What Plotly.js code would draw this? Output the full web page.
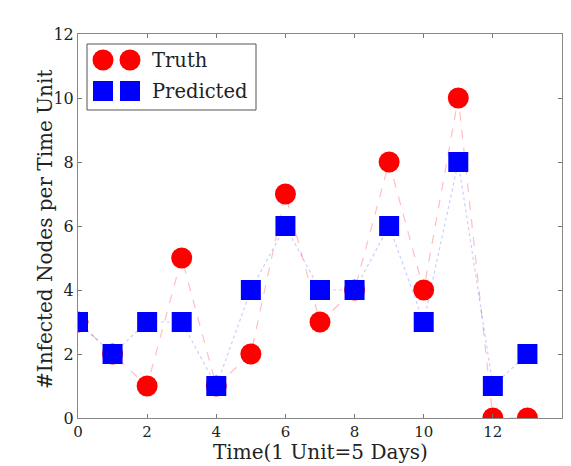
<!DOCTYPE html>
<html>
<head>
<meta charset="utf-8">
<script src="https://cdn.plot.ly/plotly-3.0.1.min.js"></script>
<style>html,body{margin:0;padding:0;background:#fff;}#chart{width:571px;height:466px;}</style>
</head>
<body>
<div id="chart"></div>
<script>
const time = [0,1,2,3,4,5,6,7,8,9,10,11,12,13];
const truth = [3,2,1,5,1,2,7,3,4,8,4,10,0,0];
const predicted = [3,2,3,3,1,4,6,4,4,6,3,8,1,2];
const seriesNames = ["Truth","Predicted"];
const xTickVals = [0,2,4,6,8,10,12,14];
const yTickVals = [0,2,4,6,8,10,12];
const xTitle = 'Time(1 Unit=5 Days)';
const yTitle = '#Infected Nodes per Time Unit';

const W = 571, H = 466;
const M = {l:78, r:9, t:34, b:48};
const pw = W - M.l - M.r, ph = H - M.t - M.b;
const px = v => (v - M.l) / pw;
const py = v => (H - M.b - v) / ph;

const font = "DejaVu Serif, Liberation Serif, serif";

const traces = [
  {x: time, y: truth, name: seriesNames[0], mode: 'lines+markers', type: 'scatter',
   line: {color: 'rgba(255,0,0,0.25)', width: 1.2, dash: 'dash'},
   marker: {symbol: 'circle', size: 21, color: '#ff0000', line: {width: 0}},
   cliponaxis: true, showlegend: false},
  {x: time, y: predicted, name: seriesNames[1], mode: 'lines+markers', type: 'scatter',
   line: {color: 'rgba(0,0,255,0.2)', width: 1.2, dash: 'dot'},
   marker: {symbol: 'square', size: 20, color: '#0000ff', line: {width: 0}},
   cliponaxis: true, showlegend: false}
];

const shapes = [
  {type:'rect', xref:'paper', yref:'paper', x0:px(87), x1:px(256), y0:py(110), y1:py(44),
   line:{color:'#555', width:1}, fillcolor:'#fff', layer:'above'}
];
const legY = [60, 91];
const legX = [103, 130];
legX.forEach(cx => {
  shapes.push({type:'circle', xref:'paper', yref:'paper', xsizemode:'pixel', ysizemode:'pixel',
    xanchor:px(cx), yanchor:py(legY[0]), x0:-10.5, x1:10.5, y0:-10.5, y1:10.5,
    fillcolor:'#ff0000', line:{width:0}, layer:'above'});
  shapes.push({type:'rect', xref:'paper', yref:'paper', xsizemode:'pixel', ysizemode:'pixel',
    xanchor:px(cx), yanchor:py(legY[1]), x0:-10, x1:10, y0:-10, y1:10,
    fillcolor:'#0000ff', line:{width:0}, layer:'above'});
});
const annotations = seriesNames.map((n,i) => ({
  xref:'paper', yref:'paper', x:px(150), y:py(legY[i]), xanchor:'left', yanchor:'middle',
  text:n, showarrow:false, font:{family:font, size:19.5, color:'#222'}
}));
annotations.push({xref:'paper', yref:'paper', x:px(320), y:py(452), xanchor:'center', yanchor:'middle',
  borderpad:0, text:xTitle, showarrow:false, font:{family:font, size:20, color:'#222'}});
annotations.push({xref:'paper', yref:'paper', x:px(45), y:py(230), xanchor:'center', yanchor:'middle',
  borderpad:0, textangle:-90, text:yTitle, showarrow:false, font:{family:font, size:20, color:'#222'}});

const layout = {
  width: W, height: H,
  margin: M,
  paper_bgcolor: '#fff', plot_bgcolor: '#fff',
  showlegend: false,
  font: {family: font, color: '#222'},
  xaxis: {range:[0,14], tickvals:xTickVals, ticks:'inside', ticklen:4, tickcolor:'#777',
    showgrid:false, zeroline:false, showline:true, linecolor:'#888', linewidth:1, mirror:'ticks',
    tickfont:{family:font, size:15, color:'#222'}},
  yaxis: {range:[0,12], tickvals:yTickVals, ticks:'inside', ticklen:4, tickcolor:'#777',
    showgrid:false, zeroline:false, showline:true, linecolor:'#888', linewidth:1, mirror:'ticks',
    tickfont:{family:font, size:16, color:'#222'}},
  shapes: shapes,
  annotations: annotations
};

Plotly.newPlot('chart', traces, layout, {displayModeBar:false, staticPlot:true});
</script>
</body>
</html>
